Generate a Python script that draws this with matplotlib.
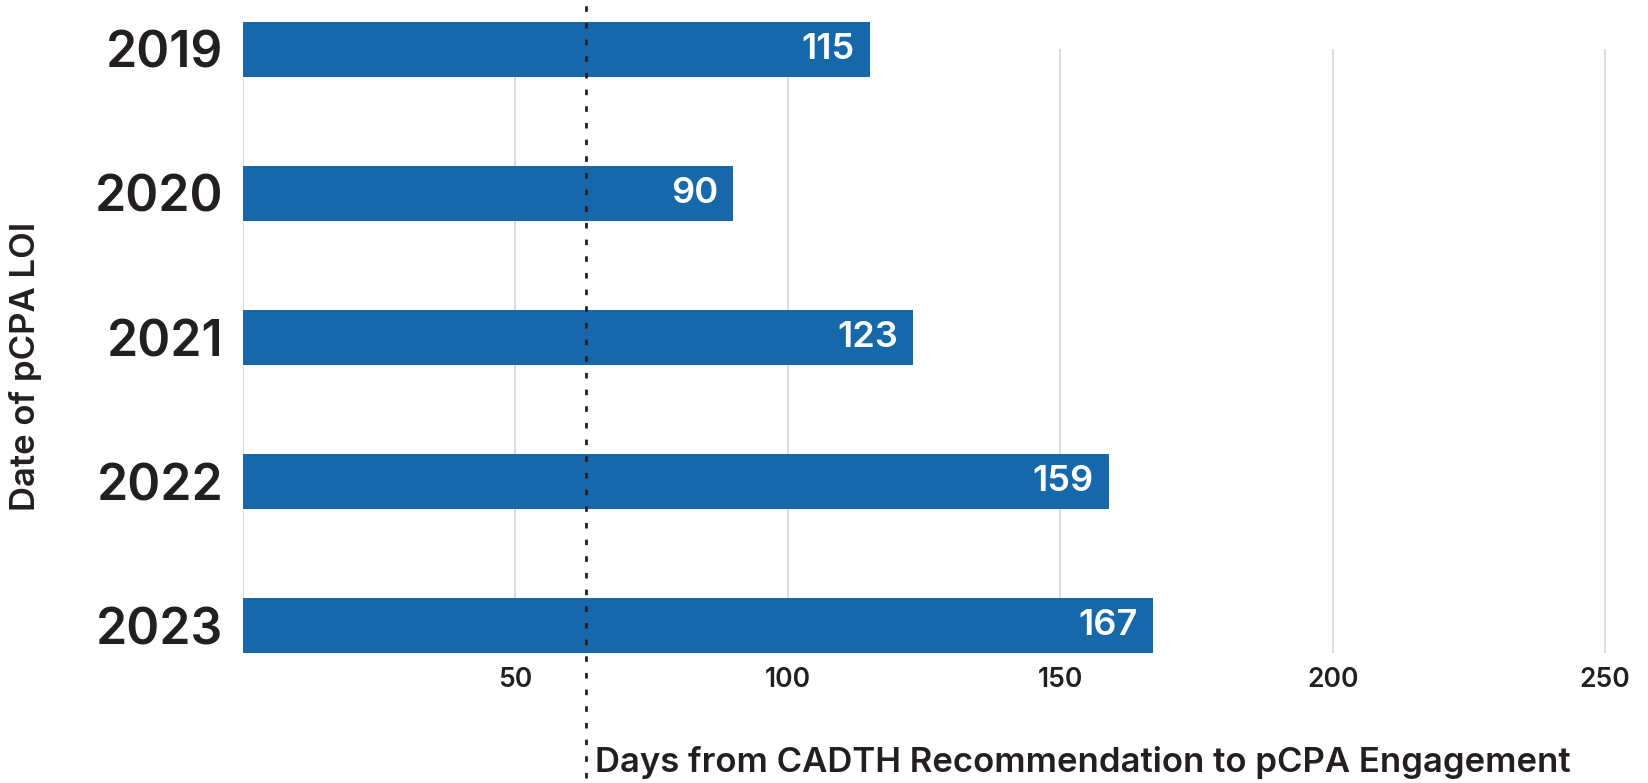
import matplotlib
matplotlib.use("Agg")
import matplotlib.pyplot as plt

# data
years = ["2019", "2020", "2021", "2022", "2023"]
days = [115, 90, 123, 159, 167]
target_day = 63
x_ticks = [0, 50, 100, 150, 200, 250]
x_tick_labels = ["", "50", "100", "150", "200", "250"]

bar_color = "#1668AA"
text_color = "#231F20"

plt.rcParams["font.family"] = ["Inter", "DejaVu Sans"]

fig = plt.figure(figsize=(16.49, 7.83), dpi=100)
ax = fig.add_axes([0.1474, 0.166, 0.8326, 0.7709])

ypos = list(range(len(years)))
ax.barh(ypos, days, height=0.38, color=bar_color, zorder=2, clip_on=False)

for y, v in zip(ypos, days):
    ax.text(v - 2.8, y, str(v), ha="right", va="center", color="white",
            fontsize=26, fontweight="semibold", zorder=3)

ax.set_xlim(0, 252)
ax.set_ylim(4.19, 0)

ax.set_xticks(x_ticks)
ax.set_xticklabels(x_tick_labels, fontsize=19, fontweight="semibold", color=text_color)
ax.set_yticks(ypos)
ax.set_yticklabels(years, fontsize=36, fontweight="semibold", color=text_color)
ax.tick_params(axis="both", length=0)
ax.tick_params(axis="y", pad=14)
ax.tick_params(axis="x", pad=10)

ax.grid(axis="x", color="#D9D9D9", linewidth=1.3, zorder=0)
for s in ax.spines.values():
    s.set_visible(False)

# dotted reference line, running past the axes top and bottom
ax.axvline(target_day, ymin=-0.207, ymax=1.073, color=text_color,
           linewidth=2, linestyle=(0, (2, 4)), clip_on=False, zorder=4)

fig.text(26 / 1649, 1 - 366 / 783, "Date of pCPA LOI", fontsize=25,
         fontweight="semibold", color=text_color, rotation=90,
         ha="center", va="center")
fig.text(595 / 1649, 1 - 772 / 783, "Days from CADTH Recommendation to pCPA Engagement",
         fontsize=25, fontweight="semibold", color=text_color, ha="left", va="baseline")

fig.savefig("out.png", dpi=100)
